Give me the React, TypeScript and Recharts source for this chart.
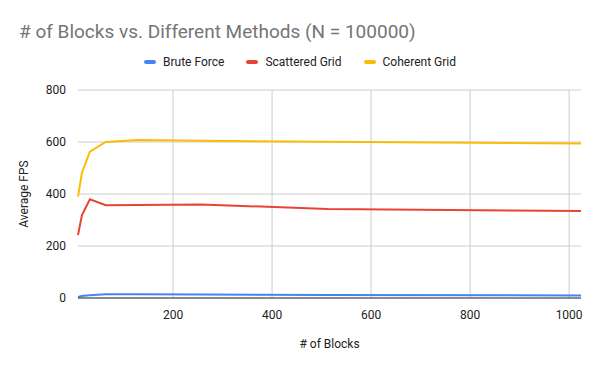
import { LineChart, Line, XAxis, YAxis, CartesianGrid } from "recharts";

const blocks = [8, 16, 32, 64, 128, 256, 512, 1024];
const bruteForce = [4, 8, 11, 14, 14, 13, 12, 10];
const scatteredGrid = [242, 319, 380, 357, 358, 360, 342, 335];
const coherentGrid = [390, 482, 563, 600, 608, 605, 601, 594];
const xTicks = [200, 400, 600, 800, 1000];
const yTicks = [0, 200, 400, 600, 800];
const xDomain = [8, 1024];

const SERIES = [
  { key: "brute", name: "Brute Force", color: "#4285F4" },
  { key: "scattered", name: "Scattered Grid", color: "#EA4335" },
  { key: "coherent", name: "Coherent Grid", color: "#FBBC04" },
];

const data = blocks.map((b, i) => ({
  blocks: b,
  brute: bruteForce[i],
  scattered: scatteredGrid[i],
  coherent: coherentGrid[i],
}));

const FONT = "Roboto, 'Noto Sans', sans-serif";

// vertical grid only at the tick values, not at the plot edges
const gridX = ({ offset }: any) =>
  xTicks.map((t) => offset.left + ((t - xDomain[0]) / (xDomain[1] - xDomain[0])) * offset.width);

export default function App() {
  return (
    <div style={{ position: "absolute", left: 0, top: 0, width: 600, height: 371, background: "#fff" }}>
      <div style={{ position: "absolute", left: 19, top: 20, fontFamily: FONT, fontSize: 19, color: "#757575" }}>
        # of Blocks vs. Different Methods (N = 100000)
      </div>
      <div style={{ position: "absolute", top: 55, left: 0, width: 600, display: "flex", justifyContent: "center", gap: 22, fontFamily: FONT, fontSize: 12, color: "#222" }}>
        {SERIES.map((s) => (
          <div key={s.key} style={{ display: "flex", alignItems: "center" }}>
            <span style={{ display: "inline-block", width: 12, height: 4, background: s.color, borderRadius: 2, marginRight: 7 }} />
            {s.name}
          </div>
        ))}
      </div>
      <LineChart width={600} height={371} data={data} margin={{ top: 90, right: 19, bottom: 18, left: 0 }}>
        <CartesianGrid stroke="#cccccc" verticalCoordinatesGenerator={gridX} />
        <XAxis
          dataKey="blocks"
          type="number"
          domain={xDomain}
          ticks={xTicks}
          tickLine={false}
          axisLine={{ stroke: "#333", strokeWidth: 1 }}
          tick={{ fill: "#222", fontSize: 12, fontFamily: FONT }}
          tickMargin={6}
          height={55}
          label={{ value: "# of Blocks", position: "insideBottom", offset: 5, fill: "#222", fontSize: 12, fontFamily: FONT }}
        />
        <YAxis
          type="number"
          domain={[0, 800]}
          ticks={yTicks}
          tickLine={false}
          axisLine={false}
          width={78}
          tickMargin={6}
          tick={{ fill: "#222", fontSize: 12, fontFamily: FONT }}
          label={{ value: "Average FPS", angle: -90, position: "insideLeft", offset: 24, fill: "#222", fontSize: 12, fontFamily: FONT, style: { textAnchor: "middle" } }}
        />
        {SERIES.map((s) => (
          <Line key={s.key} dataKey={s.key} name={s.name} stroke={s.color} strokeWidth={2} dot={false} type="linear" isAnimationActive={false} />
        ))}
      </LineChart>
    </div>
  );
}
